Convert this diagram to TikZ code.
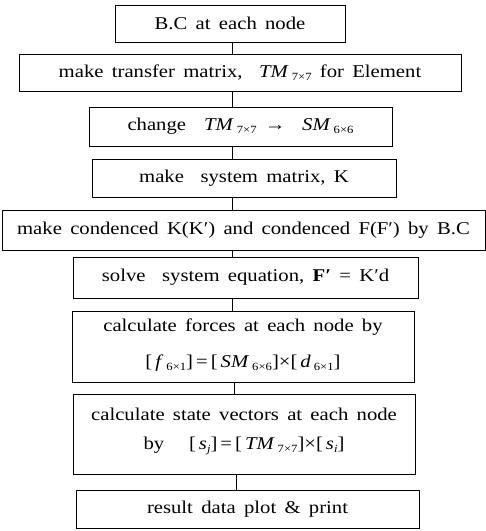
\documentclass[tikz,border=0pt]{standalone}
\usepackage{fontspec}
\setmainfont{Liberation Serif}[FakeStretch=1.15,WordSpace=1.6]
\newcommand\sbs[1]{\raisebox{-0.35ex}{\fontsize{11}{11}\selectfont #1}}
\begin{document}
\begin{tikzpicture}[x=1pt,y=-1pt,
  box/.style={draw,line width=0.8pt,inner sep=0pt,align=center,font=\fontsize{18}{28}\selectfont},
  link/.style={line width=0.8pt}]
\useasboundingbox (0,0) rectangle (486,531);
\node[box,minimum width=230,minimum height=37] (b1) at (230,23.5) {B.C at each node};
\node[box,minimum width=442,minimum height=37] (b2) at (240,72.5) {make transfer matrix,\ \ \textit{TM}\,\sbs{7×7} for Element};
\node[box,minimum width=303,minimum height=39] (b3) at (240.5,126.5) {change\quad\textit{TM}\,\sbs{7×7} → \ \textit{SM}\,\sbs{6×6}};
\node[box,minimum width=304,minimum height=38] (b4) at (244,178) {make\ \ system matrix, K};
\node[box,minimum width=483,minimum height=40] (b5) at (243.5,230) {make condenced K(K′) and condenced F(F′) by B.C};
\node[box,minimum width=345,minimum height=41] (b6) at (245.5,277.5) {solve\ \ system equation, \textbf{F′} = K′d};
\node[box,minimum width=342,minimum height=71,font=\fontsize{18}{36}\selectfont] (b7) at (243,346.5) {calculate forces at each node by\\{[}\,\textit{f}\,\sbs{6×1}{]}\,=\,[\,\textit{SM}\,\sbs{6×6}{]}×[\,\textit{d}\,\sbs{6×1}{]}\rule[-6pt]{0pt}{1pt}};
\node[box,minimum width=342,minimum height=80,font=\fontsize{18}{29}\selectfont] (b8) at (244,434) {calculate state vectors at each node\\by\ \ \ {[}\,\textit{s}\sbs{\textit{j}}{]}\,=\,[\,\textit{TM}\,\sbs{7×7}{]}×[\,\textit{s}\sbs{\textit{i}}{]}\rule[-10pt]{0pt}{1pt}};
\node[box,minimum width=343,minimum height=38] (b9) at (247.5,509) {result data plot \& print};
\coordinate (x1) at (232,0);
\coordinate (x2) at (234,0);
\coordinate (x3) at (236,0);
\draw[link] (b1.south -| x1) -- (b2.north -| x1);
\draw[link] (b2.south -| x1) -- (b3.north -| x1);
\draw[link] (b3.south -| x1) -- (b4.north -| x1);
\draw[link] (b4.south -| x1) -- (b5.north -| x1);
\draw[link] (b5.south -| x1) -- (b6.north -| x1);
\draw[link] (b6.south -| x1) -- (b7.north -| x1);
\draw[link] (b7.south -| x2) -- (b8.north -| x2);
\draw[link] (b8.south -| x3) -- (b9.north -| x3);
\end{tikzpicture}
\end{document}
